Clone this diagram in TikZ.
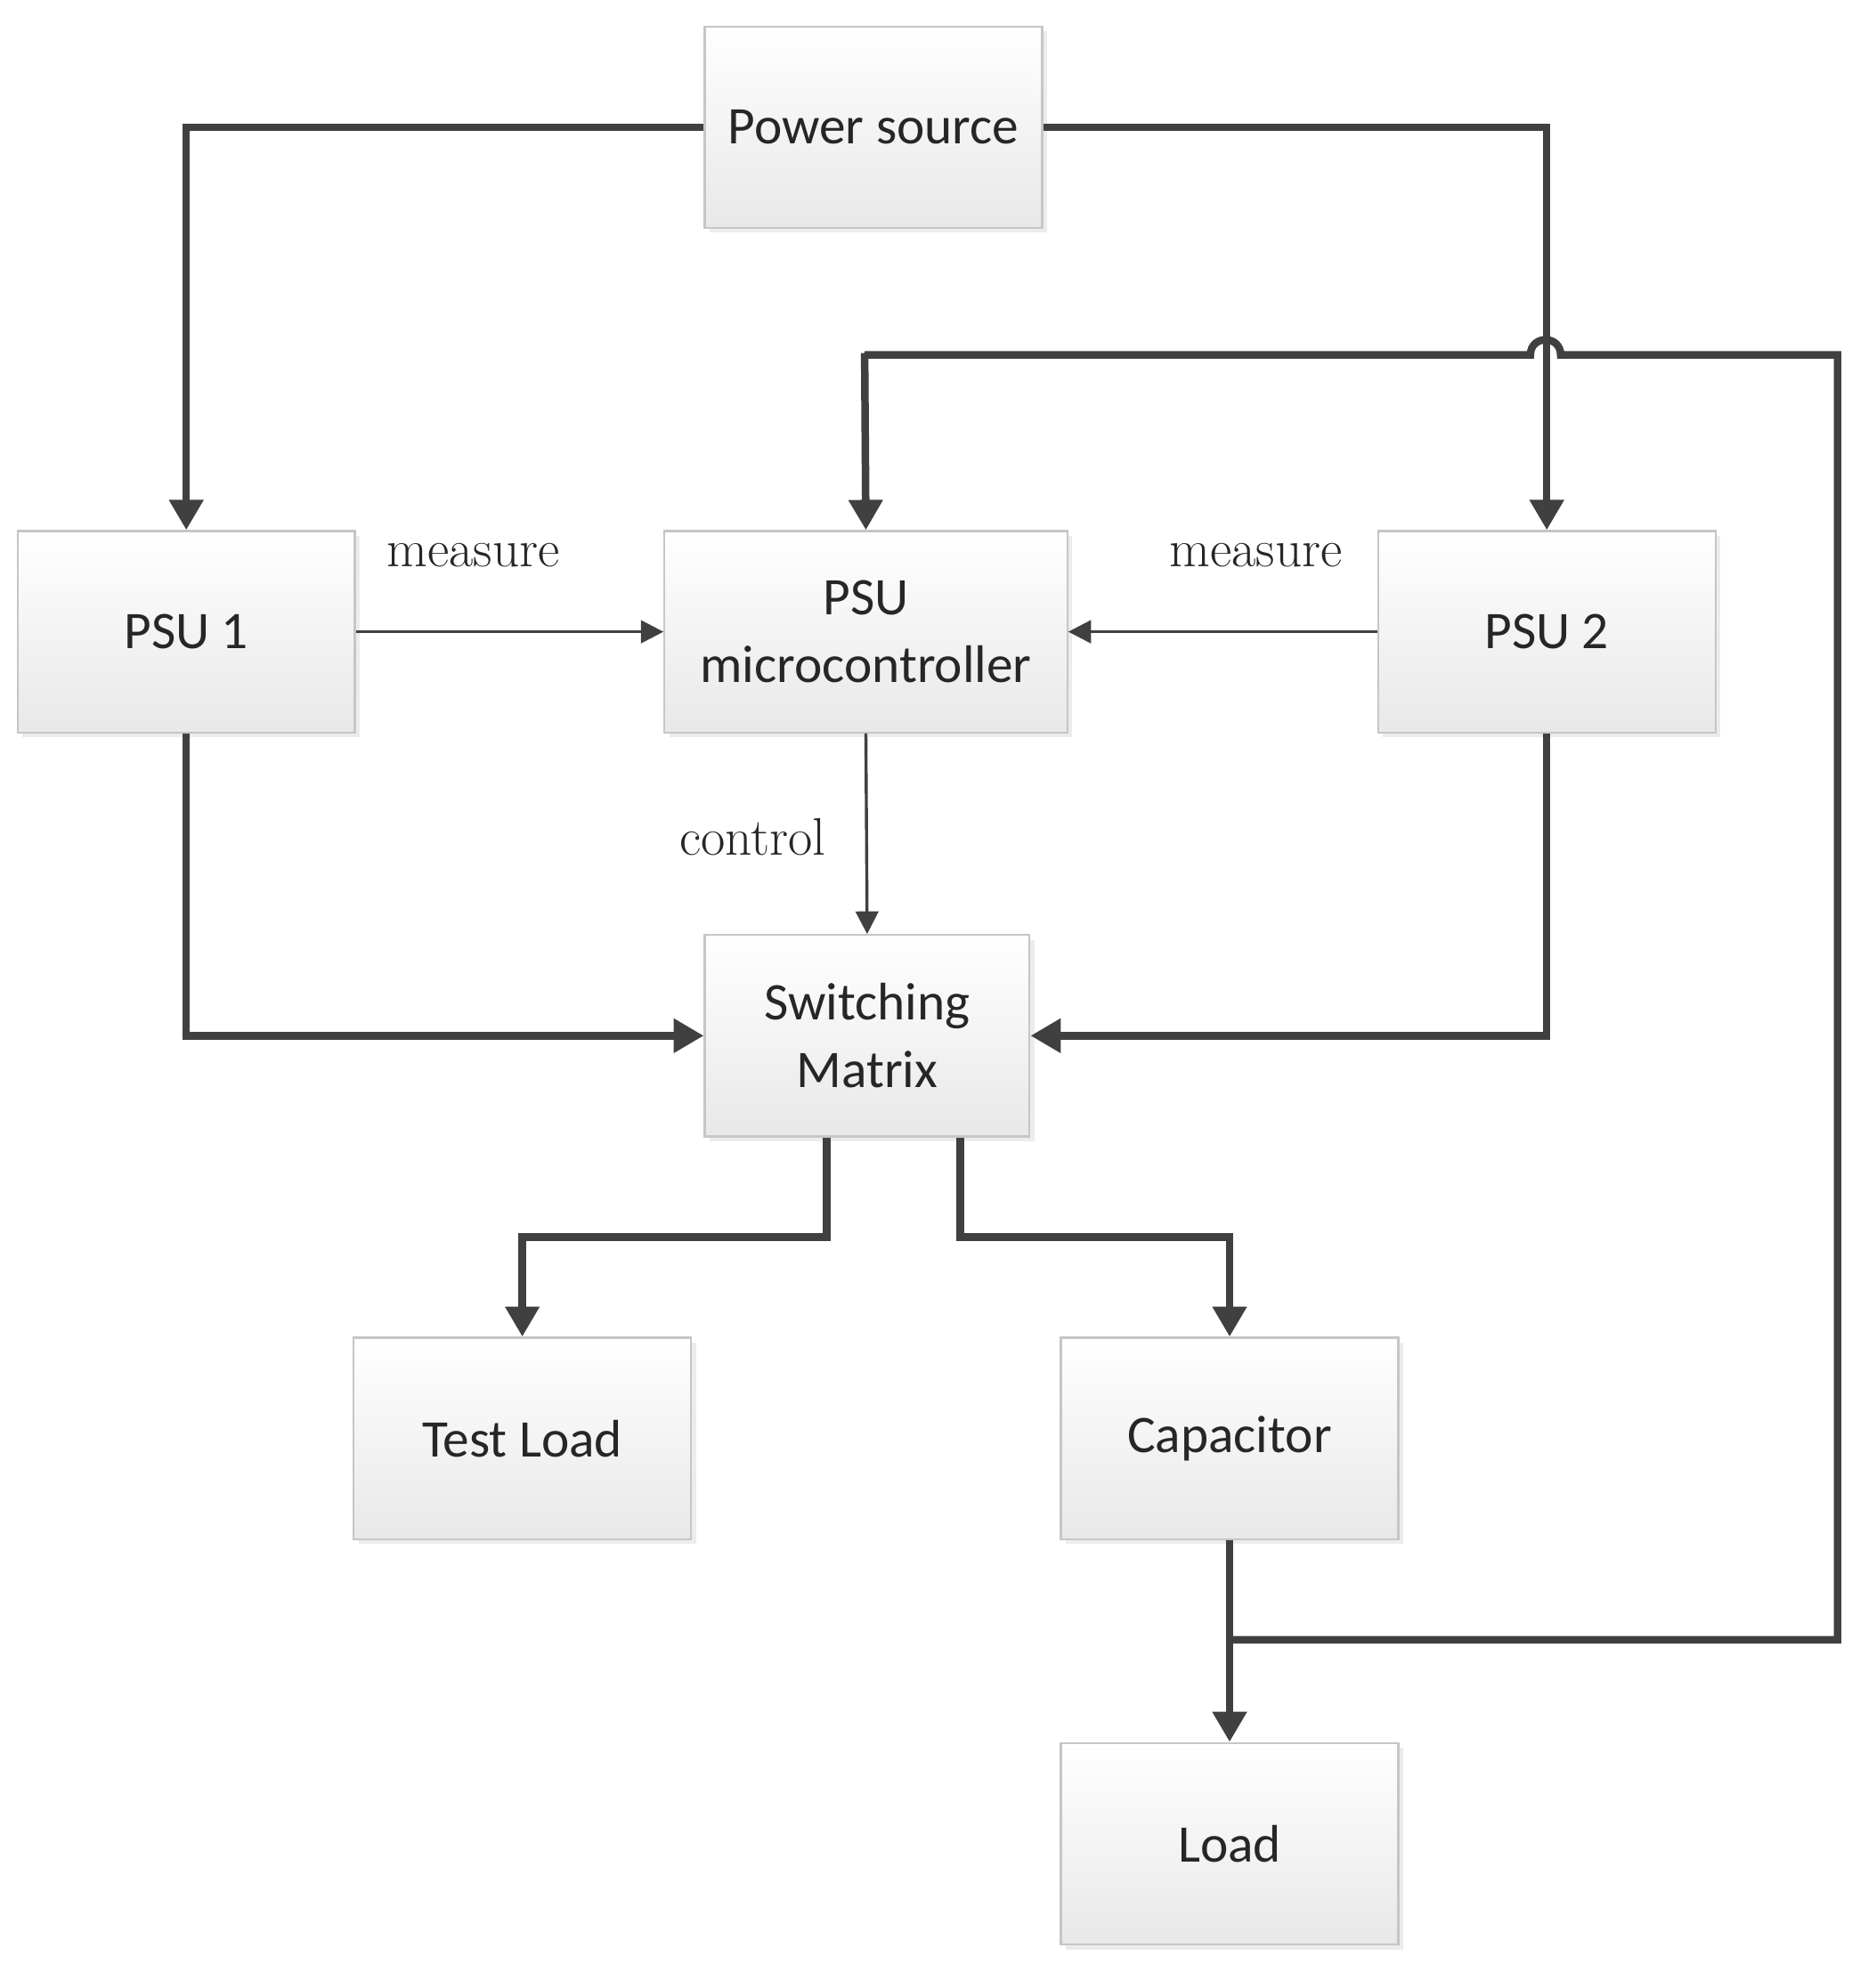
\documentclass[tikz,border=0pt]{standalone}
\usepackage{fontspec}
\setmainfont{Latin Modern Roman}
\newfontfamily\boxfont{Carlito}
\usetikzlibrary{arrows.meta,shadows}
\begin{document}
\begin{tikzpicture}[x=0.5pt,y=-0.5pt,
  blk/.style={draw=gray!45,line width=0.8pt,top color=white,bottom color=gray!18,
    minimum width=134pt,minimum height=80pt,inner sep=0pt,align=center,
    font=\boxfont\fontsize{21}{27}\selectfont,text=black!85,
    drop shadow={shadow xshift=2pt,shadow yshift=-2pt,fill=gray!25,opacity=0.6}},
  thick line/.style={draw=black!75,line width=3pt,-{Triangle[length=12pt,width=13pt]}},
  thin line/.style={draw=black!75,line width=1.2pt,-{Triangle[length=9pt,width=9pt]}},
  lbl/.style={font=\fontsize{21}{25}\selectfont,text=black!85}]
\useasboundingbox (0,0) rectangle (1490,1567);
\node[blk,minimum width=134pt] (ps) at (694,101) {Power source};
\node[blk] (psu1) at (148,502) {PSU 1};
\node[blk,minimum width=160pt] (mc) at (688,502) {PSU\\microcontroller};
\node[blk] (psu2) at (1229,502) {PSU 2};
\node[blk,minimum width=129pt] (sm) at (689,823) {Switching\\Matrix};
\node[blk] (tl) at (415,1143) {Test Load};
\node[blk] (cap) at (977,1143) {Capacitor};
\node[blk] (ld) at (977,1465) {Load};
\coordinate (j) at (977,1303);
\coordinate (c1) at (1460,1303);
\coordinate (c2) at (1460,282);
\draw[thick line] (ps.west) -| (psu1.north);
\draw[thick line] (ps.east) -| (psu2.north);
\draw[thick line] (cap.south) -- (ld.north);
\draw[draw=black!75,line width=3pt] (j) -- (c1) -- (c2) -- (1240,282) .. controls (1240,266) and (1216,266) .. (1216,282) -- (687,282);
\draw[thick line] (687,280.5) -- (mc.north);
\draw[thick line] (psu1.south) |- (sm.west);
\draw[thick line] (psu2.south) |- (sm.east);
\draw[thick line] (sm.south -| 657,0) |- (415,983) -- (tl.north);
\draw[thick line] (sm.south -| 763,0) |- (977,983) -- (cap.north);
\draw[thin line] (psu1.east) -- (mc.west);
\draw[thin line] (psu2.west) -- (mc.east);
\draw[thin line] (mc.south) -- (sm.north);
\node[lbl] (m1) at (376,441) {measure};
\node[lbl] (m2) at (998,441) {measure};
\node[lbl] (ct) at (598,665) {control};
\end{tikzpicture}
\end{document}
